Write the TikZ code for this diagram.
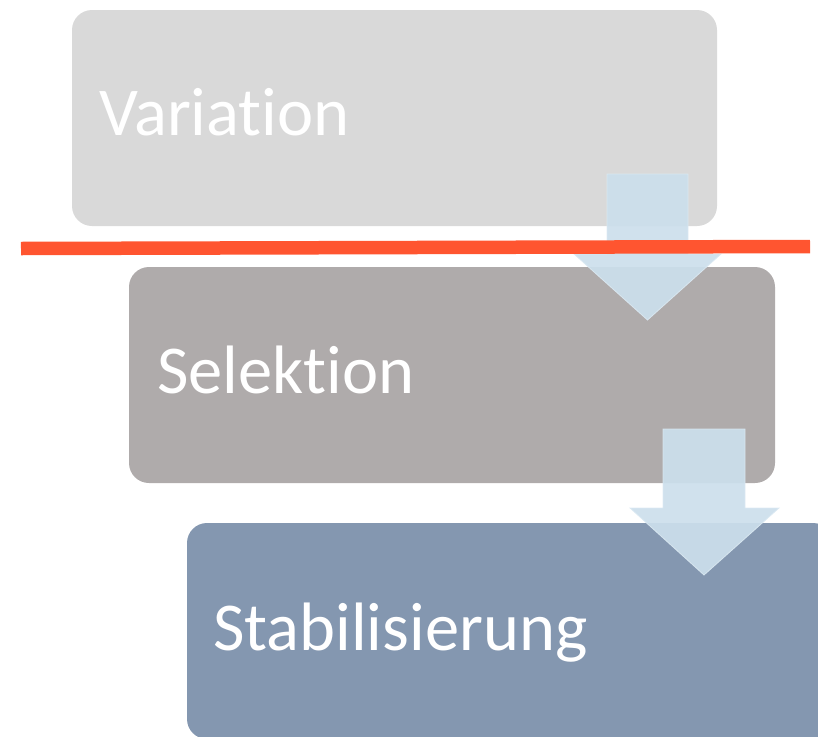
\documentclass[tikz,border=0pt]{standalone}
\usepackage{fontspec}
\setmainfont[Ligatures={NoCommon,NoRare,NoContextual},
  RawFeature={-liga;-clig;-dlig}]{Carlito}
\definecolor{stepgrey}{RGB}{217,217,217}
\definecolor{steptaupe}{RGB}{175,171,171}
\definecolor{stepblue}{RGB}{132,151,176}
\definecolor{flowblue}{RGB}{204,223,236}
\definecolor{cutred}{RGB}{255,85,48}
% keep "t" and "i" as separate glyphs
\newcommand{\nolig}{\kern0pt}
\tikzset{
  x=1pt, y=-1pt,
  stagebox/.style={rounded corners=20pt, draw=none},
  stagetext/.style={anchor=base west, inner sep=0pt, text=white,
    font=\fontsize{68.5}{80}\selectfont},
  flowarrow/.style={fill=flowblue, fill opacity=0.93, draw=flowblue!70!white,
    line width=0.8pt, draw opacity=0.9},
  cutline/.style={draw=cutred, line width=13.5pt}
}
\begin{document}
\begin{tikzpicture}
  \useasboundingbox (0,0) rectangle (818,736);
  \clip (0,0) rectangle (818,736);

  % stage boxes
  \fill[stagebox, stepgrey]  (72,10)   rectangle (717,226);
  \node[stagetext] (variation) at (99,135) {Variat\nolig ion};

  \fill[stagebox, steptaupe] (129,267) rectangle (775,483);
  \node[stagetext] (selektion) at (157,393) {Selekt\nolig ion};

  % arrow from first to second stage
  \draw[flowarrow] (607,174) -- (688,174) -- (688,254) -- (721,254)
    -- (647.5,320) -- (574,254) -- (607,254) -- cycle;

  \fill[stagebox, stepblue]  (187,523) rectangle (833,739);
  \node[stagetext] (stabil) at (213,650) {Stabilisierung};

  % arrow from second to third stage
  \draw[flowarrow] (663,429) -- (745,429) -- (745,508) -- (779,508)
    -- (704,575) -- (630,508) -- (663,508) -- cycle;

  % cut line
  \coordinate (cutL) at (21,248.5);
  \coordinate (cutR) at (810,246.5);
  \draw[cutline] (cutL) -- (cutR);
\end{tikzpicture}
\end{document}
